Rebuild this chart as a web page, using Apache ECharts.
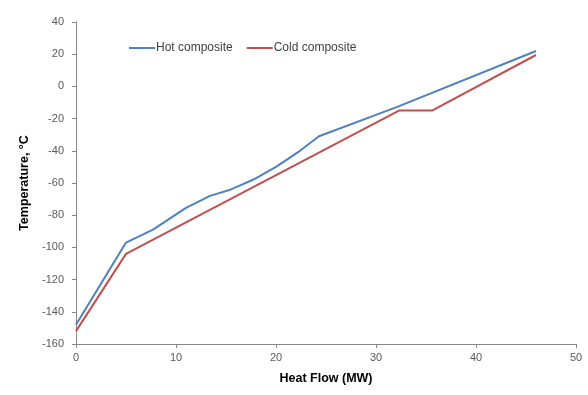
<!DOCTYPE html>
<html><head><meta charset="utf-8">
<script src="https://cdn.jsdelivr.net/npm/echarts@6/dist/echarts.min.js"></script>
<style>html,body{margin:0;padding:0;background:#fff}#c{width:588px;height:395px}</style>
</head><body><div id="c"></div>
<script>
var hotX = [0, 5, 7.7, 11, 13.4, 15.5, 17.7, 20, 22.4, 24.3, 32, 46];
var hotY = [-148, -97, -89, -75.5, -68, -64, -58, -50, -40, -31, -13, 22];
var coldX = [0, 5, 32.3, 35.6, 46];
var coldY = [-152, -104, -15, -15, 19.5];
var seriesNames = ['Hot composite', 'Cold composite'];
var xTitle = 'Heat Flow (MW)';
var yTitle = 'Temperature, \u00B0C';

function pairs(xs, ys){ return xs.map(function(x,i){ return [x, ys[i]]; }); }
var chart = echarts.init(document.getElementById('c'), null, {renderer:'canvas'});
var FF = 'Liberation Sans, Arial, sans-serif';
function axisBase(margin){
  return {
    axisLine:{show:true, onZero:false, lineStyle:{color:'#868686', width:1}},
    axisTick:{show:true, inside:false, length:4, lineStyle:{color:'#868686'}},
    splitLine:{show:false},
    axisLabel:{color:'#595959', fontSize:11, fontFamily:FF, margin:margin}
  };
}
chart.setOption({
  animation:false,
  backgroundColor:'#fff',
  grid:{left:76, right:12, top:22, bottom:51, containLabel:false},
  legend:{
    left:124, top:37, itemWidth:26, itemHeight:2, itemGap:14,
    icon:'rect',
    textStyle:{color:'#404040', fontSize:12, fontFamily:FF, padding:[0,0,0,-4]},
    data:seriesNames
  },
  xAxis:Object.assign({type:'value', min:0, max:50, interval:10,
    name:xTitle, nameLocation:'middle', nameGap:28,
    nameTextStyle:{color:'#000', fontSize:12.5, fontWeight:'bold', fontFamily:FF}
  }, axisBase(8)),
  yAxis:Object.assign({type:'value', min:-160, max:40, interval:20,
    name:yTitle, nameLocation:'middle', nameGap:35, nameRotate:90,
    nameTextStyle:{color:'#000', fontSize:12.5, fontWeight:'bold', fontFamily:FF}
  }, axisBase(12)),
  series:[
    {name:seriesNames[0], type:'line', data:pairs(hotX, hotY), showSymbol:false, symbol:'none',
     lineStyle:{color:'#4f81bd', width:2}, itemStyle:{color:'#4f81bd'}},
    {name:seriesNames[1], type:'line', data:pairs(coldX, coldY), showSymbol:false, symbol:'none',
     lineStyle:{color:'#c0504d', width:2}, itemStyle:{color:'#c0504d'}}
  ]
});
</script></body></html>
